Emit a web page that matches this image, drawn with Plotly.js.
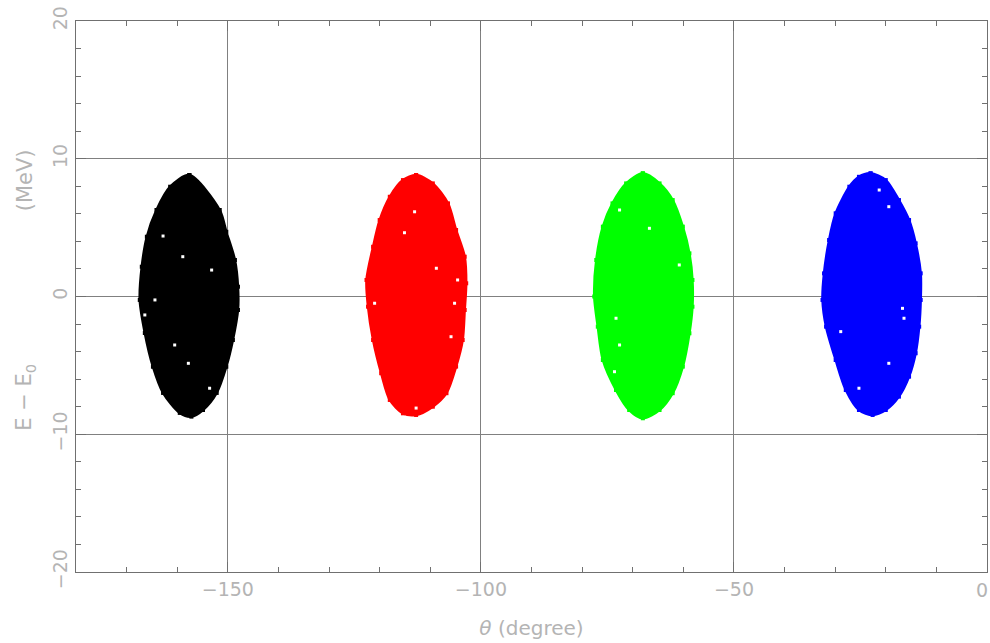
<!DOCTYPE html>
<html>
<head>
<meta charset="utf-8">
<script src="https://cdn.plot.ly/plotly-3.0.1.min.js"></script>
<style>
html,body{margin:0;padding:0;background:#fff;}
#chart{width:990px;height:643px;}
</style>
</head>
<body>
<div id="chart"></div>
<script>
// Outline of each cluster (theta in degree, E - E0 in MeV)
const blackX = [-157.6,-151.6,-150.3,-148.6,-148.0,-148.0,-149.0,-150.3,-152.2,-154.9,-157.2,-159.5,-162.8,-164.8,-166.4,-167.4,-167.0,-166.0,-164.1,-161.4,-157.6];
const blackY = [8.82,6.28,4.70,2.65,0.71,-0.98,-3.16,-5.10,-7.00,-8.24,-8.72,-8.45,-7.00,-5.10,-2.65,-0.25,2.16,4.34,6.28,7.97,8.82];

const redX = [-112.8,-109.5,-106.5,-104.9,-103.2,-102.9,-103.2,-103.6,-104.9,-106.8,-109.5,-112.8,-115.4,-118.0,-119.7,-121.3,-122.3,-122.6,-121.3,-120.0,-118.0,-115.4,-112.8];
const redY = [8.82,8.21,6.76,4.83,2.89,0.96,-0.98,-3.16,-5.09,-7.02,-8.00,-8.60,-8.48,-7.51,-5.57,-3.16,-0.74,1.20,3.61,5.55,7.24,8.45,8.82];

const greenX = [-68.0,-64.7,-62.1,-60.1,-58.8,-58.2,-58.2,-58.8,-60.1,-62.1,-64.7,-68.0,-70.7,-73.3,-75.9,-76.9,-77.6,-77.2,-75.9,-74.0,-71.3,-68.0];
const greenY = [8.94,8.21,7.00,5.07,3.13,1.20,-0.74,-2.67,-5.09,-7.02,-8.24,-8.84,-8.24,-6.79,-4.61,-2.19,0.00,2.65,5.07,6.76,8.21,8.94];

const blueX = [-23.0,-20.0,-17.4,-15.4,-14.1,-13.1,-13.1,-13.4,-14.1,-15.4,-17.4,-20.0,-22.6,-25.3,-27.9,-29.9,-31.8,-32.5,-32.2,-31.2,-29.9,-27.2,-25.3,-23.0];
const blueY = [8.94,8.45,7.00,5.55,3.86,1.68,-0.25,-2.19,-4.12,-5.82,-7.27,-8.24,-8.60,-8.24,-6.79,-4.61,-2.19,-0.25,1.68,4.10,6.04,7.97,8.69,8.94];

// White specks (gaps between points)
const speckX = [-158.9,-153.2,-164.4,-160.5,-157.8,-166.4,-162.8,-153.6,
                -113.1,-115.1,-108.8,-104.6,-105.2,-121.0,-105.9,-112.8,
                -66.7,-60.8,-72.6,-73.3,-72.6,-73.6,
                -21.3,-19.4,-28.9,-16.7,-16.4,-19.4,-25.3];
const speckY = [2.89,1.92,-0.25,-3.52,-4.85,-1.34,4.39,-6.66,
                6.15,4.63,2.05,1.20,-0.49,-0.49,-2.92,-8.10,
                4.95,2.29,6.28,-1.58,-3.52,-5.46,
                7.73,6.52,-2.55,-0.86,-1.58,-4.85,-6.66];

const xTickVals = [-150,-100,-50];
const xTickText = ['−150','−100','−50'];
const xEdgeLabel = '0';
const yTickVals = [-20,-10,0,10,20];

function cluster(x, y, color){
  return {
    x: x, y: y, type: 'scatter', mode: 'lines+markers',
    fill: 'toself', fillcolor: color,
    line: {color: color, width: 2.5, shape: 'spline', smoothing: 0.8},
    marker: {color: color, size: 4, symbol: 'square'},
    hoverinfo: 'skip', showlegend: false
  };
}

const traces = [
  cluster(blackX, blackY, '#000000'),
  cluster(redX, redY, '#ff0000'),
  cluster(greenX, greenY, '#00ff00'),
  cluster(blueX, blueY, '#0000ff'),
  {x: speckX, y: speckY, type: 'scatter', mode: 'markers',
   marker: {color: '#ffffff', size: 3, symbol: 'square'},
   hoverinfo: 'skip', showlegend: false}
];

const grey = '#b4b4b4';
const tickFont = {family: 'DejaVu Sans, sans-serif', size: 19, color: grey};
const axisCommon = {
  showline: true, linecolor: '#707070', linewidth: 1,
  mirror: 'ticks', ticks: 'inside', ticklen: 10, tickcolor: '#707070', tickwidth: 1,
  showgrid: true, gridcolor: '#808080', gridwidth: 1,
  zeroline: false, tickfont: tickFont
};

const layout = {
  width: 990, height: 643,
  margin: {l: 76, r: 3, t: 21, b: 71},
  paper_bgcolor: '#ffffff', plot_bgcolor: '#ffffff',
  showlegend: false,
  xaxis: Object.assign({}, axisCommon, {
    range: [-180, 0], tickmode: 'array', tickvals: xTickVals, ticktext: xTickText,
    minor: {dtick: 10, tick0: 0, ticks: 'inside', ticklen: 5, tickcolor: '#707070', showgrid: false},
    title: {text: '<i>θ</i> (degree)', font: {family: 'DejaVu Sans, sans-serif', size: 20, color: grey}, standoff: 22}
  }),
  yaxis: Object.assign({}, axisCommon, {
    range: [-20, 20], tickmode: 'array', tickvals: yTickVals, tickangle: -90,
    minor: {dtick: 2, tick0: 0, ticks: 'inside', ticklen: 5, tickcolor: '#707070', showgrid: false},
    title: {text: ''}
  }),
  annotations: [
    {text: xEdgeLabel, xref: 'x', yref: 'paper', x: 0, y: 0, yshift: -5, xshift: -5,
     xanchor: 'center', yanchor: 'top', showarrow: false, font: tickFont},
    {text: '(MeV)', xref: 'paper', yref: 'paper', x: -0.056, y: 0.711, textangle: -90,
     xanchor: 'center', yanchor: 'middle',
     showarrow: false, font: {family: 'DejaVu Sans, sans-serif', size: 21, color: grey}},
    {text: 'E − E<sub>0</sub>', xref: 'paper', yref: 'paper', x: -0.056, y: 0.318, textangle: -90,
     xanchor: 'center', yanchor: 'middle',
     showarrow: false, font: {family: 'DejaVu Sans, sans-serif', size: 21, color: grey}}
  ]
};

Plotly.newPlot('chart', traces, layout, {staticPlot: true, displayModeBar: false});
</script>
</body>
</html>
